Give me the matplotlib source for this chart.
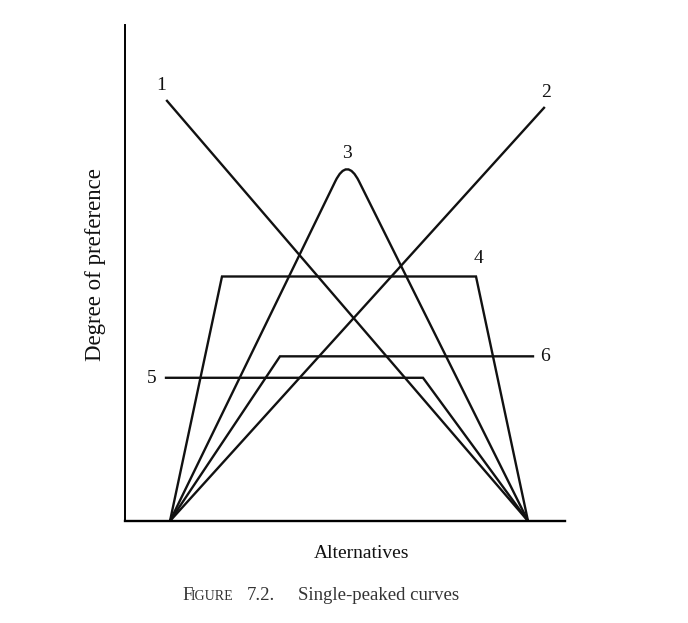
import matplotlib
matplotlib.use("Agg")
import matplotlib.pyplot as plt
from matplotlib.path import Path
from matplotlib.patches import PathPatch

# curve vertices (alternative position, degree of preference)
curve1_x = [1.05, 10.075]
curve1_y = [8.42, 0.0]
curve2_x = [1.125, 10.475]
curve2_y = [0.0, 8.28]
curve3_x = [1.125, 5.55, 10.075]   # middle point is the (rounded) peak
curve3_y = [0.0, 7.29, 0.0]
curve4_x = [1.125, 2.425, 8.775, 10.075]
curve4_y = [0.0, 4.90, 4.90, 0.0]
curve5_x = [1.025, 7.45, 10.075]
curve5_y = [2.87, 2.87, 0.0]
curve6_x = [1.125, 3.875, 10.2]
curve6_y = [0.0, 3.30, 3.30]

labels = ["1", "2", "3", "4", "5", "6"]
label_x = [0.9, 10.525, 5.55, 8.825, 0.675, 10.5]
label_y = [8.72, 8.58, 7.37, 5.27, 2.85, 3.29]

plt.rcParams['font.family'] = ['Liberation Serif', 'DejaVu Serif']

fig = plt.figure(figsize=(6.88, 6.23), dpi=100)
ax = fig.add_axes([125 / 688, 1 - 521 / 623, 440 / 688, 496 / 623])
ax.set_xlim(0, 11)
ax.set_ylim(0, 9.94)

lw = 1.7
for xs, ys in [(curve1_x, curve1_y), (curve2_x, curve2_y), (curve4_x, curve4_y),
               (curve5_x, curve5_y), (curve6_x, curve6_y)]:
    ax.plot(xs, ys, color='#111111', lw=lw, solid_joinstyle='miter')

# curve 3 with a rounded top (quadratic bezier around the peak)
t = 0.066
x0, xp, x1 = curve3_x
y0, yp, y1 = curve3_y
a = (xp + (x0 - xp) * t, yp + (y0 - yp) * t)
b = (xp + (x1 - xp) * t, yp + (y1 - yp) * t)
path = Path([(x0, y0), a, (xp, yp), b, (x1, y1)],
            [Path.MOVETO, Path.LINETO, Path.CURVE3, Path.CURVE3, Path.LINETO])
ax.add_patch(PathPatch(path, fill=False, edgecolor='#111111', lw=lw))

for s, x, y in zip(labels, label_x, label_y):
    ax.text(x, y, s, fontsize=14, ha='center', va='center', color='#111111')

for side in ['top', 'right']:
    ax.spines[side].set_visible(False)
ax.spines['left'].set_linewidth(1.4)
ax.spines['bottom'].set_linewidth(1.7)
ax.set_xticks([])
ax.set_yticks([])

fig.text(362 / 688, 1 - 553 / 623, "Alternatives", fontsize=14,
         ha='center', va='center', color='#111111')
fig.text(95 / 688, 1 - 265 / 623, "Degree of preference", fontsize=16.5,
         rotation=90, ha='center', va='center', color='#111111')

# caption with small caps "Figure"
fig.text(182 / 688, 1 - 600 / 623, "F", fontsize=13.5, ha='left', va='baseline',
         color='#333333')
fig.text(191 / 688, 1 - 600 / 623, "IGURE", fontsize=10, ha='left', va='baseline',
         color='#333333')
fig.text(247 / 688, 1 - 600 / 623, "7.2.", fontsize=13.5,
         ha='left', va='baseline', color='#333333')
fig.text(298 / 688, 1 - 600 / 623, "Single-peaked curves", fontsize=13.5,
         ha='left', va='baseline', color='#333333')

fig.savefig("out.png", dpi=100, facecolor='white')
